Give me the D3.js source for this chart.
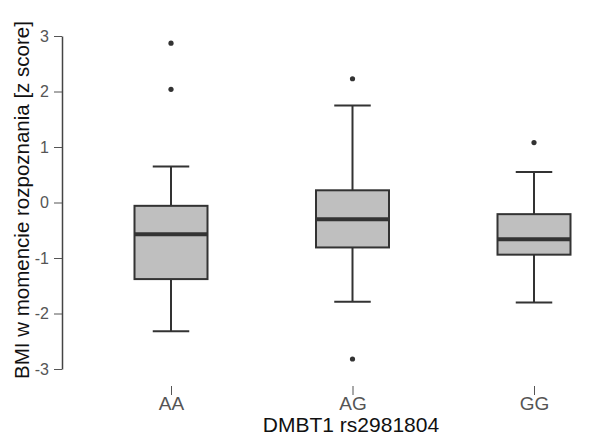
<!DOCTYPE html>
<html>
<head>
<meta charset="utf-8">
<script src="https://cdn.jsdelivr.net/npm/d3@7"></script>
<style>
  html, body { margin: 0; padding: 0; background: #fff; }
  svg { display: block; font-family: "Liberation Sans", Arial, sans-serif; }
</style>
</head>
<body>
<svg id="chart" width="599" height="437"></svg>
<script>
// Genotype groups and their box-plot summaries (z score)
const categories = ["AA", "AG", "GG"];
const lowerWhisker = [-2.32, -1.79, -1.80];
const q1 = [-1.38, -0.81, -0.94];
const median = [-0.57, -0.30, -0.66];
const q3 = [-0.06, 0.22, -0.21];
const upperWhisker = [0.65, 1.75, 0.55];
const outliers = [[2.87, 2.04], [2.23, -2.82], [1.08]];
const yTicks = [-3, -2, -1, 0, 1, 2, 3];

const svg = d3.select("#chart");

const y = d3.scaleLinear().domain([-3, 3]).range([369, 36]);
const x = d3.scalePoint().domain(categories).range([171, 534]);

const boxHalf = 36.5;
const capHalf = 18.25;
const stroke = "#333";

// Y axis (line spans the tick range only)
const yAxis = svg.append("g").attr("transform", "translate(62,0)")
  .call(d3.axisLeft(y).tickValues(yTicks).tickSize(8).tickSizeOuter(0).tickFormat(d3.format("d")));
yAxis.select(".domain").attr("stroke", "#444").attr("stroke-width", 1.5);
yAxis.selectAll(".tick line").attr("stroke", "#555").attr("stroke-width", 1);
yAxis.selectAll(".tick text").attr("fill", "#555").attr("font-size", 16)
  .attr("x", -13).attr("font-family", "Liberation Sans, Arial, sans-serif")
  .text(d => d < 0 ? "-" + Math.abs(d) : d);

// X axis: ticks and labels only
const xAxis = svg.append("g").attr("transform", "translate(0,386)")
  .call(d3.axisBottom(x).tickSize(9).tickSizeOuter(0));
xAxis.select(".domain").remove();
xAxis.selectAll(".tick line").attr("stroke", "#555").attr("stroke-width", 1);
xAxis.selectAll(".tick text").attr("fill", "#555").attr("font-size", 19)
  .attr("y", 11).attr("font-family", "Liberation Sans, Arial, sans-serif");

// Axis titles
svg.append("text")
  .attr("transform", "translate(29,200) rotate(-90)")
  .attr("text-anchor", "middle")
  .attr("font-size", 20.5)
  .attr("fill", "#111")
  .text("BMI w momencie rozpoznania [z score]");

svg.append("text")
  .attr("x", 351).attr("y", 432)
  .attr("text-anchor", "middle")
  .attr("font-size", 21)
  .attr("fill", "#111")
  .text("DMBT1 rs2981804");

// Boxes
const groups = svg.append("g").selectAll("g")
  .data(categories.map((c, i) => ({
    c, lw: lowerWhisker[i], q1: q1[i], med: median[i], q3: q3[i], uw: upperWhisker[i], out: outliers[i]
  })))
  .join("g");

// whiskers
groups.append("line")
  .attr("x1", d => x(d.c)).attr("x2", d => x(d.c))
  .attr("y1", d => y(d.q3)).attr("y2", d => y(d.uw))
  .attr("stroke", stroke).attr("stroke-width", 2);
groups.append("line")
  .attr("x1", d => x(d.c)).attr("x2", d => x(d.c))
  .attr("y1", d => y(d.q1)).attr("y2", d => y(d.lw))
  .attr("stroke", stroke).attr("stroke-width", 2);
// caps
groups.append("line")
  .attr("x1", d => x(d.c) - capHalf).attr("x2", d => x(d.c) + capHalf)
  .attr("y1", d => y(d.uw)).attr("y2", d => y(d.uw))
  .attr("stroke", stroke).attr("stroke-width", 2);
groups.append("line")
  .attr("x1", d => x(d.c) - capHalf).attr("x2", d => x(d.c) + capHalf)
  .attr("y1", d => y(d.lw)).attr("y2", d => y(d.lw))
  .attr("stroke", stroke).attr("stroke-width", 2);
// box
groups.append("rect")
  .attr("x", d => x(d.c) - boxHalf).attr("width", boxHalf * 2)
  .attr("y", d => y(d.q3)).attr("height", d => y(d.q1) - y(d.q3))
  .attr("fill", "#bfbfbf").attr("stroke", stroke).attr("stroke-width", 2);
// median
groups.append("line")
  .attr("x1", d => x(d.c) - boxHalf).attr("x2", d => x(d.c) + boxHalf)
  .attr("y1", d => y(d.med)).attr("y2", d => y(d.med))
  .attr("stroke", stroke).attr("stroke-width", 4);
// outliers
groups.selectAll("circle")
  .data(d => d.out.map(v => ({ c: d.c, v })))
  .join("circle")
  .attr("cx", d => x(d.c)).attr("cy", d => y(d.v))
  .attr("r", 2.6).attr("fill", stroke);
</script>
</body>
</html>
